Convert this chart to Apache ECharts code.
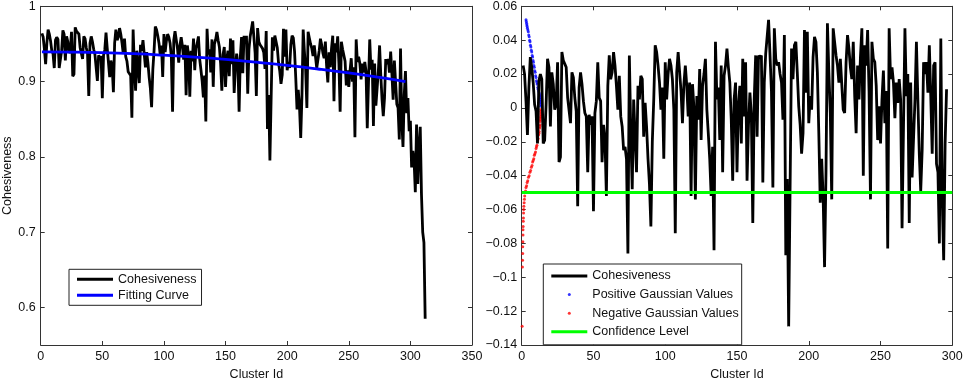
<!DOCTYPE html>
<html>
<head>
<meta charset="utf-8">
<title>Cluster cohesiveness</title>
<script src="https://cdn.jsdelivr.net/npm/echarts/dist/echarts.min.js"></script>
<style>
  html, body { margin: 0; padding: 0; background: #fff; }
  #chart { width: 964px; height: 378px; }
</style>
</head>
<body>
<div id="chart"></div>
<script>
// 左图: Cohesiveness, cluster id 1..312
var cohesiveness = [
  0.964, 0.959, 0.943, 0.923, 0.951, 0.969, 0.963, 0.954, 0.941, 0.937,
  0.918, 0.955, 0.959, 0.956, 0.918, 0.920, 0.941, 0.968, 0.963, 0.928,
  0.960, 0.953, 0.938, 0.941, 0.966, 0.907, 0.910, 0.972, 0.967, 0.965,
  0.963, 0.945, 0.945, 0.930, 0.960, 0.957, 0.945, 0.937, 0.881, 0.951,
  0.960, 0.953, 0.943, 0.936, 0.934, 0.901, 0.935, 0.929, 0.934, 0.878,
  0.935, 0.942, 0.965, 0.944, 0.942, 0.906, 0.928, 0.920, 0.886, 0.951,
  0.969, 0.955, 0.959, 0.971, 0.963, 0.951, 0.937, 0.957, 0.933, 0.927,
  0.913, 0.915, 0.908, 0.852, 0.969, 0.921, 0.888, 0.941, 0.942, 0.898,
  0.949, 0.941, 0.955, 0.953, 0.919, 0.939, 0.925, 0.906, 0.891, 0.866,
  0.916, 0.941, 0.973, 0.969, 0.961, 0.951, 0.935, 0.948, 0.906, 0.963,
  0.939, 0.954, 0.963, 0.959, 0.951, 0.933, 0.860, 0.955, 0.967, 0.967,
  0.944, 0.925, 0.948, 0.959, 0.947, 0.929, 0.949, 0.882, 0.948, 0.934,
  0.880, 0.941, 0.927, 0.957, 0.915, 0.944, 0.951, 0.960, 0.930, 0.916,
  0.901, 0.879, 0.908, 0.847, 0.970, 0.936, 0.943, 0.912, 0.956, 0.893,
  0.950, 0.956, 0.966, 0.955, 0.946, 0.924, 0.888, 0.936, 0.946, 0.893,
  0.930, 0.941, 0.907, 0.957, 0.923, 0.955, 0.885, 0.918, 0.937, 0.924,
  0.860, 0.933, 0.959, 0.911, 0.959, 0.957, 0.959, 0.884, 0.943, 0.960,
  0.961, 0.980, 0.959, 0.938, 0.881, 0.971, 0.953, 0.949, 0.951, 0.944,
  0.939, 0.917, 0.967, 0.837, 0.882, 0.795, 0.878, 0.959, 0.941, 0.961,
  0.963, 0.945, 0.925, 0.914, 0.897, 0.909, 0.970, 0.933, 0.969, 0.915,
  0.926, 0.918, 0.949, 0.961, 0.958, 0.940, 0.904, 0.863, 0.889, 0.867,
  0.825, 0.881, 0.969, 0.940, 0.916, 0.865, 0.966, 0.958, 0.950, 0.944,
  0.934, 0.948, 0.949, 0.918, 0.916, 0.941, 0.957, 0.949, 0.938, 0.931,
  0.953, 0.921, 0.899, 0.939, 0.919, 0.944, 0.961, 0.874, 0.951, 0.939,
  0.960, 0.924, 0.860, 0.953, 0.943, 0.941, 0.927, 0.895, 0.915, 0.893,
  0.914, 0.931, 0.900, 0.919, 0.826, 0.956, 0.926, 0.933, 0.924, 0.903,
  0.924, 0.912, 0.926, 0.914, 0.838, 0.898, 0.956, 0.916, 0.929, 0.841,
  0.924, 0.868, 0.868, 0.914, 0.948, 0.908, 0.876, 0.854, 0.878, 0.930,
  0.923, 0.930, 0.912, 0.940, 0.910, 0.876, 0.928, 0.930, 0.870, 0.865,
  0.823, 0.944, 0.849, 0.813, 0.882, 0.914, 0.858, 0.878, 0.834, 0.848,
  0.786, 0.808, 0.795, 0.753, 0.843, 0.764, 0.812, 0.840, 0.750, 0.700,
  0.686, 0.585
];

// 拟合曲线 (Fitting Curve)
var fitX = [1, 25, 50, 75, 100, 125, 150, 175, 200, 225, 250, 275, 296];
var fitY = [0.9395, 0.9392, 0.9384, 0.9370, 0.9350, 0.9325, 0.9294,
            0.9257, 0.9215, 0.9167, 0.9114, 0.9055, 0.9000];

// 右图: 去趋势后的 Cohesiveness, cluster id 1..296
var residual = [
   0.025,  0.020,  0.004, -0.016,  0.012,  0.030,  0.024,  0.015,  0.002, -0.002,
  -0.021,  0.016,  0.020,  0.017, -0.021, -0.019,  0.002,  0.029,  0.024, -0.011,
   0.021,  0.014, -0.001,  0.002,  0.027, -0.032, -0.029,  0.033,  0.028,  0.026,
   0.024,  0.006,  0.006, -0.009,  0.021,  0.018,  0.006, -0.002, -0.058,  0.012,
   0.021,  0.014,  0.004, -0.003, -0.005, -0.038, -0.004, -0.010, -0.005, -0.061,
  -0.003,  0.004,  0.027,  0.006,  0.004, -0.032, -0.010, -0.018, -0.052,  0.013,
   0.031,  0.017,  0.021,  0.033,  0.025,  0.013, -0.001,  0.019, -0.005, -0.011,
  -0.025, -0.023, -0.030, -0.086,  0.031, -0.015, -0.048,  0.005,  0.006, -0.038,
   0.013,  0.005,  0.019,  0.017, -0.017,  0.003, -0.011, -0.030, -0.045, -0.070,
  -0.020,  0.005,  0.037,  0.033,  0.025,  0.015, -0.001,  0.012, -0.030,  0.027,
   0.005,  0.020,  0.029,  0.025,  0.017, -0.001, -0.074,  0.021,  0.033,  0.033,
   0.010, -0.009,  0.014,  0.025,  0.013, -0.005,  0.015, -0.052,  0.014,  0.000,
  -0.054,  0.007, -0.007,  0.023, -0.019,  0.013,  0.020,  0.029, -0.001, -0.015,
  -0.030, -0.052, -0.023, -0.084,  0.039,  0.005,  0.012, -0.019,  0.025, -0.038,
   0.019,  0.025,  0.035,  0.024,  0.015, -0.007, -0.043,  0.005,  0.015, -0.038,
   0.002,  0.013, -0.021,  0.029, -0.005,  0.027, -0.043, -0.010,  0.009, -0.004,
  -0.068,  0.005,  0.031, -0.017,  0.031,  0.029,  0.031, -0.044,  0.015,  0.032,
   0.033,  0.052,  0.031,  0.010, -0.047,  0.047,  0.029,  0.025,  0.027,  0.020,
   0.015, -0.007,  0.043, -0.087, -0.042, -0.129, -0.046,  0.035,  0.017,  0.037,
   0.039,  0.021,  0.001, -0.010, -0.027, -0.015,  0.046,  0.009,  0.045, -0.009,
   0.007, -0.001,  0.030,  0.042,  0.039,  0.021, -0.015, -0.056, -0.030, -0.052,
  -0.094, -0.038,  0.050,  0.021, -0.003, -0.054,  0.047,  0.039,  0.031,  0.025,
   0.015,  0.029,  0.030, -0.001, -0.003,  0.027,  0.043,  0.035,  0.024,  0.017,
   0.039,  0.007, -0.015,  0.025,  0.005,  0.030,  0.047, -0.040,  0.037,  0.025,
   0.046,  0.010, -0.054,  0.039,  0.029,  0.027,  0.013, -0.019,  0.001, -0.021,
   0.005,  0.022, -0.009,  0.010, -0.083,  0.047,  0.017,  0.024,  0.015, -0.006,
   0.015,  0.003,  0.017,  0.005, -0.071, -0.011,  0.047,  0.007,  0.020, -0.068,
   0.015, -0.041, -0.041,  0.005,  0.039,  0.005, -0.027, -0.049, -0.025,  0.027,
   0.020,  0.027,  0.009,  0.037,  0.007, -0.027,  0.025,  0.027, -0.033, -0.038,
  -0.080,  0.041, -0.054, -0.090, -0.021,  0.011
];

// Positive / Negative Gaussian Values (x, y)
var posGaussX = [3.0, 3.2, 3.4, 3.6, 3.8, 4.0, 4.3, 4.6, 4.9, 5.2, 5.5, 5.8, 6.1, 6.4,
                 6.7, 7.0, 7.3, 7.6, 7.9, 8.2, 8.5, 8.8, 9.1, 9.4, 9.7, 10.0, 10.3,
                 10.6, 10.9, 11.2, 11.5, 11.8, 12.1, 12.4, 12.6, 12.8, 13.0, 13.1,
                 13.2, 13.3, 13.4];
var posGaussY = [0.052, 0.051, 0.050, 0.049, 0.048, 0.047, 0.046, 0.045, 0.043, 0.042,
                 0.040, 0.039, 0.037, 0.036, 0.034, 0.033, 0.031, 0.030, 0.028, 0.027,
                 0.025, 0.024, 0.022, 0.021, 0.019, 0.018, 0.016, 0.015, 0.014, 0.012,
                 0.011, 0.010, 0.009, 0.008, 0.007, 0.006, 0.005, 0.004, 0.003, 0.002,
                 0.001];
var negGaussX = [13.4, 13.4, 13.3, 13.3, 13.2, 13.1, 13.0, 12.9, 12.8, 12.6, 12.4, 12.2,
                 12.0, 11.8, 11.5, 11.2, 10.9, 10.6, 10.3, 10.0, 9.6, 9.2, 8.8, 8.4,
                 8.0, 7.6, 7.2, 6.7, 6.2, 5.7, 5.2, 4.7, 4.2, 3.8, 3.4, 3.0, 2.7, 2.4,
                 2.1, 1.9, 1.7, 1.5, 1.4, 1.3, 1.2, 1.1, 1.0, 0.9, 0.9, 0.8, 0.7, 0.7,
                 0.6, 0.5, 0.3];
var negGaussY = [-0.001, -0.002, -0.003, -0.004, -0.005, -0.006, -0.007, -0.008, -0.010,
                 -0.011, -0.012, -0.014, -0.015, -0.016, -0.018, -0.019, -0.020, -0.022,
                 -0.023, -0.024, -0.026, -0.027, -0.028, -0.030, -0.031, -0.032, -0.034,
                 -0.035, -0.037, -0.038, -0.040, -0.041, -0.043, -0.044, -0.046, -0.047,
                 -0.049, -0.050, -0.052, -0.054, -0.056, -0.058, -0.060, -0.062, -0.065,
                 -0.067, -0.070, -0.072, -0.075, -0.079, -0.082, -0.086, -0.090, -0.094,
                 -0.129];

// Confidence Level
var confX = [0, 300];
var confY = [-0.05, -0.05];

// 刻度
var leftYTicks = [0.6, 0.7, 0.8, 0.9, 1];

function toPairs(xs, ys) {
  var out = [];
  for (var i = 0; i < ys.length; i++) {
    out.push([xs ? xs[i] : i + 1, ys[i]]);
  }
  return out;
}

// matlab 风格的负号
function fmt(v) {
  var s = String(+v.toFixed(2));
  return s.replace('-', '\u2212');
}

var FONT = 'Liberation Sans, Arial, Helvetica, sans-serif';
var AXIS_COLOR = '#333';

function baseAxis(extra) {
  var axis = {
    type: 'value',
    splitLine: { show: false },
    axisLine: { show: true, onZero: false, lineStyle: { color: AXIS_COLOR, width: 1 } },
    axisTick: { show: true, inside: true, length: 4, lineStyle: { color: AXIS_COLOR } },
    axisLabel: { show: true, color: '#111', fontFamily: FONT, fontSize: 12.5, formatter: fmt }
  };
  return echarts.util.merge(axis, extra, true);
}

var chart = echarts.init(document.getElementById('chart'));

var option = {
  animation: false,
  backgroundColor: '#fff',
  grid: [
    { left: 40.7, right: 492, top: 6.3, bottom: 33, outerBoundsMode: 'none', containLabel: false },
    { left: 521.7, right: 11.7, top: 6.3, bottom: 33, outerBoundsMode: 'none', containLabel: false }
  ],
  xAxis: [
    baseAxis({ gridIndex: 0, min: 0, max: 350, interval: 50, position: 'bottom',
      axisLabel: { margin: 5 },
      name: 'Cluster Id', nameLocation: 'middle', nameGap: 20,
      nameTextStyle: { color: '#111', fontFamily: FONT, fontSize: 12.5 } }),
    baseAxis({ gridIndex: 1, min: 0, max: 300, interval: 50, position: 'bottom',
      axisLabel: { margin: 5 },
      name: 'Cluster Id', nameLocation: 'middle', nameGap: 20,
      nameTextStyle: { color: '#111', fontFamily: FONT, fontSize: 12.5 } }),
    // 上边框
    baseAxis({ gridIndex: 0, min: 0, max: 350, interval: 50, position: 'top',
      axisLabel: { show: false } }),
    baseAxis({ gridIndex: 1, min: 0, max: 300, interval: 50, position: 'top',
      axisLabel: { show: false } })
  ],
  yAxis: [
    baseAxis({ gridIndex: 0, min: 0.55, max: 1, position: 'left',
      axisTick: { customValues: leftYTicks },
      axisLabel: { customValues: leftYTicks, margin: 5 },
      name: 'Cohesiveness', nameLocation: 'middle', nameGap: 27,
      nameTextStyle: { color: '#111', fontFamily: FONT, fontSize: 12.5 } }),
    baseAxis({ gridIndex: 1, min: -0.14, max: 0.06, interval: 0.02, position: 'left',
      axisLabel: { margin: 4.5 } }),
    // 右边框
    baseAxis({ gridIndex: 0, min: 0.55, max: 1, position: 'right',
      axisTick: { customValues: leftYTicks },
      axisLabel: { show: false } }),
    baseAxis({ gridIndex: 1, min: -0.14, max: 0.06, interval: 0.02, position: 'right',
      axisLabel: { show: false } })
  ],
  legend: [
    {
      left: 69, top: 269.3, orient: 'vertical',
      padding: [2, 5, 2, 8], itemGap: 0,
      itemWidth: 36, itemHeight: 3,
      borderColor: '#222', borderWidth: 1, backgroundColor: '#fff',
      selectedMode: false,
      itemStyle: { borderWidth: 0 },
      textStyle: { color: '#111', fontFamily: FONT, fontSize: 12.5, lineHeight: 16 },
      data: [
        { name: 'Cohesiveness', icon: 'rect' },
        { name: 'Fitting Curve', icon: 'rect' }
      ]
    },
    {
      left: 543.3, top: 264, orient: 'vertical',
      padding: [4, 3, 5, 8], itemGap: 2.6,
      itemWidth: 36, itemHeight: 3,
      borderColor: '#222', borderWidth: 1, backgroundColor: '#fff',
      selectedMode: false,
      itemStyle: { borderWidth: 0 },
      textStyle: { color: '#111', fontFamily: FONT, fontSize: 12.5, lineHeight: 16 },
      data: [
        { name: 'Cohesiveness', icon: 'rect' },
        { name: 'Positive Gaussian Values', icon: 'circle' },
        { name: 'Negative Gaussian Values', icon: 'circle' },
        { name: 'Confidence Level', icon: 'rect' }
      ]
    }
  ],
  series: [
    {
      name: 'Cohesiveness', type: 'line', xAxisIndex: 0, yAxisIndex: 0,
      data: toPairs(null, cohesiveness),
      showSymbol: false, color: '#000',
      lineStyle: { color: '#000', width: 2.8, join: 'miter', miterLimit: 2 }
    },
    {
      name: 'Fitting Curve', type: 'line', xAxisIndex: 0, yAxisIndex: 0,
      data: toPairs(fitX, fitY), smooth: true,
      showSymbol: false, color: '#0000ff',
      lineStyle: { color: '#0000ff', width: 2.8 }
    },
    {
      name: 'Cohesiveness', type: 'line', xAxisIndex: 1, yAxisIndex: 1,
      data: toPairs(null, residual),
      showSymbol: false, color: '#000',
      lineStyle: { color: '#000', width: 2.8, join: 'miter', miterLimit: 2 }
    },
    {
      name: 'Positive Gaussian Values', type: 'scatter', xAxisIndex: 1, yAxisIndex: 1,
      data: toPairs(posGaussX, posGaussY),
      symbolSize: 3, color: '#0000ff'
    },
    {
      name: 'Negative Gaussian Values', type: 'scatter', xAxisIndex: 1, yAxisIndex: 1,
      data: toPairs(negGaussX, negGaussY),
      symbolSize: 3, color: '#ff0000'
    },
    {
      name: 'Confidence Level', type: 'line', xAxisIndex: 1, yAxisIndex: 1,
      data: toPairs(confX, confY),
      showSymbol: false, color: '#00ff00',
      lineStyle: { color: '#00ff00', width: 3 }
    }
  ]
};

chart.setOption(option);
</script>
</body>
</html>
